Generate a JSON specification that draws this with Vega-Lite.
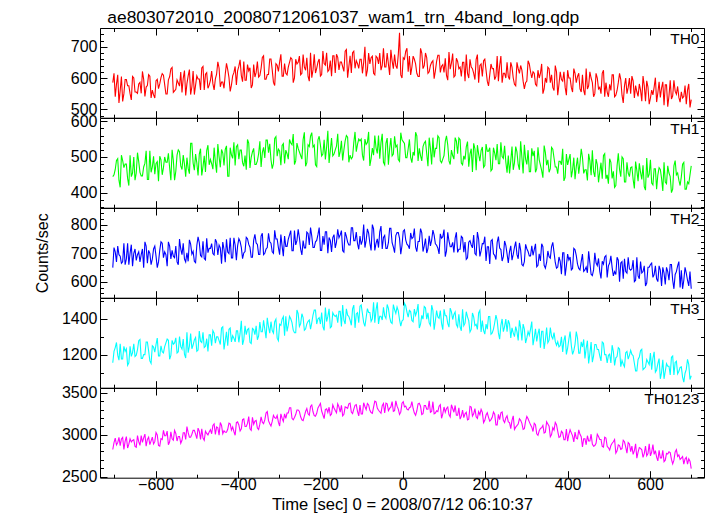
{
"$schema":"https://vega.github.io/schema/vega-lite/v6.json",
"padding":{"left":34,"top":9,"right":5,"bottom":0},
"title":{"text":"ae803072010_20080712061037_wam1_trn_4band_long.qdp","anchor":"start","fontSize":17.4,"fontWeight":"normal","color":"black","offset":1,"dx":73},
"config":{"font":"Liberation Sans","view":{"stroke":null},"axis":{"labelFontSize":16,"titleFontSize":16,"titleFontWeight":"normal","labelColor":"black","titleColor":"black","tickColor":"black","domainColor":"black","grid":false,"labelFlush":false,"labelOverlap":false,"labelBound":false,"tickWidth":1,"domainWidth":1,"format":"d"}},
"spacing":0,
"bounds":"flush",
"data":{"values":[
{"t":-704,"a":585,"b":445,"c":650,"d":1156,"e":2824},{"t":-698,"a":540,"b":465,"c":705,"d":1240,"e":2959},{"t":-692,"a":610,"b":495,"c":725,"d":1198,"e":2905},{"t":-686,"a":560,"b":415,"c":690,"d":1261,"e":2869},{"t":-680,"a":525,"b":490,"c":670,"d":1177,"e":2968},{"t":-674,"a":595,"b":480,"c":660,"d":1219,"e":2923},{"t":-668,"a":575,"b":440,"c":735,"d":1142,"e":2842},{"t":-662,"a":550,"b":505,"c":700,"d":1247,"e":2950},{"t":-656,"a":605,"b":455,"c":655,"d":1212,"e":2932},{"t":-650,"a":555,"b":435,"c":715,"d":1191,"e":2860},
{"t":-644,"a":551,"b":512,"c":695,"d":1229,"e":2989},{"t":-638,"a":586,"b":457,"c":670,"d":1285,"e":2872},{"t":-632,"a":621,"b":447,"c":715,"d":1180,"e":2908},{"t":-626,"a":541,"b":482,"c":740,"d":1201,"e":3007},{"t":-620,"a":576,"b":437,"c":665,"d":1271,"e":2944},{"t":-614,"a":606,"b":517,"c":700,"d":1166,"e":2881},{"t":-608,"a":561,"b":472,"c":680,"d":1250,"e":2971},{"t":-602,"a":536,"b":452,"c":725,"d":1215,"e":2917},{"t":-596,"a":596,"b":487,"c":650,"d":1292,"e":2998},{"t":-590,"a":581,"b":502,"c":710,"d":1194,"e":2863},
{"t":-584,"a":614,"b":450,"c":735,"d":1217,"e":2943},{"t":-578,"a":579,"b":500,"c":705,"d":1245,"e":2988},{"t":-572,"a":549,"b":485,"c":655,"d":1287,"e":3042},{"t":-566,"a":604,"b":470,"c":725,"d":1175,"e":2916},{"t":-560,"a":634,"b":520,"c":710,"d":1280,"e":2952},{"t":-554,"a":559,"b":435,"c":685,"d":1266,"e":3051},{"t":-548,"a":594,"b":505,"c":670,"d":1210,"e":2925},{"t":-542,"a":574,"b":515,"c":750,"d":1301,"e":2979},{"t":-536,"a":554,"b":465,"c":695,"d":1231,"e":2934},{"t":-530,"a":624,"b":480,"c":680,"d":1203,"e":3024},
{"t":-524,"a":582,"b":498,"c":702,"d":1324,"e":3096},{"t":-518,"a":627,"b":453,"c":747,"d":1247,"e":2970},{"t":-512,"a":572,"b":538,"c":697,"d":1233,"e":3006},{"t":-506,"a":547,"b":463,"c":672,"d":1282,"e":3051},{"t":-500,"a":607,"b":483,"c":727,"d":1219,"e":2952},{"t":-494,"a":597,"b":508,"c":737,"d":1331,"e":3042},{"t":-488,"a":632,"b":448,"c":687,"d":1268,"e":3069},{"t":-482,"a":562,"b":503,"c":682,"d":1240,"e":2934},{"t":-476,"a":617,"b":518,"c":752,"d":1289,"e":3015},{"t":-470,"a":577,"b":478,"c":717,"d":1310,"e":3033},
{"t":-464,"a":622,"b":481,"c":734,"d":1250,"e":3011},{"t":-458,"a":562,"b":526,"c":694,"d":1320,"e":3128},{"t":-452,"a":612,"b":456,"c":739,"d":1299,"e":3092},{"t":-446,"a":632,"b":501,"c":729,"d":1278,"e":2993},{"t":-440,"a":587,"b":521,"c":664,"d":1348,"e":3110},{"t":-434,"a":567,"b":476,"c":714,"d":1229,"e":3047},{"t":-428,"a":647,"b":531,"c":749,"d":1327,"e":3029},{"t":-422,"a":602,"b":446,"c":699,"d":1341,"e":3137},{"t":-416,"a":577,"b":506,"c":684,"d":1271,"e":3056},{"t":-410,"a":617,"b":541,"c":754,"d":1292,"e":3038},
{"t":-404,"a":578,"b":529,"c":676,"d":1332,"e":3143},{"t":-398,"a":638,"b":494,"c":751,"d":1269,"e":3116},{"t":-392,"a":608,"b":519,"c":721,"d":1388,"e":3071},{"t":-386,"a":653,"b":474,"c":701,"d":1283,"e":3188},{"t":-380,"a":593,"b":464,"c":756,"d":1311,"e":3098},{"t":-374,"a":623,"b":539,"c":731,"d":1346,"e":3215},{"t":-368,"a":568,"b":499,"c":686,"d":1262,"e":3053},{"t":-362,"a":643,"b":524,"c":746,"d":1339,"e":3125},{"t":-356,"a":618,"b":479,"c":736,"d":1360,"e":3170},{"t":-350,"a":603,"b":509,"c":696,"d":1304,"e":3062},
{"t":-344,"a":631,"b":472,"c":760,"d":1327,"e":3212},{"t":-338,"a":671,"b":527,"c":695,"d":1390,"e":3131},{"t":-332,"a":596,"b":547,"c":715,"d":1292,"e":3257},{"t":-326,"a":611,"b":512,"c":770,"d":1355,"e":3167},{"t":-320,"a":661,"b":492,"c":735,"d":1383,"e":3104},{"t":-314,"a":586,"b":482,"c":700,"d":1320,"e":3230},{"t":-308,"a":646,"b":557,"c":750,"d":1397,"e":3194},{"t":-302,"a":621,"b":522,"c":720,"d":1278,"e":3149},{"t":-296,"a":676,"b":477,"c":765,"d":1362,"e":3248},{"t":-290,"a":606,"b":537,"c":690,"d":1411,"e":3158},
{"t":-284,"a":615,"b":519,"c":724,"d":1413,"e":3195},{"t":-278,"a":635,"b":494,"c":749,"d":1364,"e":3258},{"t":-272,"a":665,"b":539,"c":779,"d":1399,"e":3321},{"t":-266,"a":585,"b":564,"c":709,"d":1336,"e":3177},{"t":-260,"a":660,"b":489,"c":729,"d":1322,"e":3240},{"t":-254,"a":650,"b":524,"c":784,"d":1427,"e":3294},{"t":-248,"a":610,"b":504,"c":714,"d":1371,"e":3213},{"t":-242,"a":675,"b":549,"c":744,"d":1406,"e":3168},{"t":-236,"a":625,"b":474,"c":719,"d":1343,"e":3276},{"t":-230,"a":605,"b":534,"c":769,"d":1385,"e":3249},
{"t":-224,"a":681,"b":558,"c":790,"d":1342,"e":3336},{"t":-218,"a":626,"b":528,"c":720,"d":1419,"e":3273},{"t":-212,"a":616,"b":478,"c":740,"d":1447,"e":3219},{"t":-206,"a":651,"b":548,"c":765,"d":1398,"e":3318},{"t":-200,"a":606,"b":533,"c":710,"d":1370,"e":3372},{"t":-194,"a":686,"b":508,"c":760,"d":1356,"e":3237},{"t":-188,"a":641,"b":493,"c":775,"d":1461,"e":3300},{"t":-182,"a":621,"b":573,"c":700,"d":1412,"e":3264},{"t":-176,"a":656,"b":518,"c":745,"d":1349,"e":3228},{"t":-170,"a":671,"b":503,"c":755,"d":1433,"e":3354},
{"t":-164,"a":616,"b":520,"c":719,"d":1412,"e":3287},{"t":-158,"a":666,"b":565,"c":784,"d":1377,"e":3368},{"t":-152,"a":651,"b":515,"c":764,"d":1440,"e":3269},{"t":-146,"a":636,"b":490,"c":709,"d":1475,"e":3224},{"t":-140,"a":686,"b":545,"c":774,"d":1370,"e":3332},{"t":-134,"a":601,"b":555,"c":739,"d":1419,"e":3314},{"t":-128,"a":671,"b":505,"c":729,"d":1391,"e":3377},{"t":-122,"a":681,"b":500,"c":789,"d":1454,"e":3251},{"t":-116,"a":631,"b":570,"c":744,"d":1349,"e":3350},{"t":-110,"a":646,"b":535,"c":734,"d":1433,"e":3278},
{"t":-104,"a":660,"b":545,"c":760,"d":1469,"e":3354},{"t":-98,"a":615,"b":505,"c":745,"d":1427,"e":3246},{"t":-92,"a":700,"b":550,"c":720,"d":1357,"e":3336},{"t":-86,"a":625,"b":540,"c":785,"d":1455,"e":3372},{"t":-80,"a":645,"b":475,"c":735,"d":1434,"e":3291},{"t":-74,"a":670,"b":525,"c":800,"d":1399,"e":3255},{"t":-68,"a":610,"b":560,"c":710,"d":1378,"e":3399},{"t":-62,"a":665,"b":510,"c":750,"d":1490,"e":3318},{"t":-56,"a":680,"b":495,"c":775,"d":1413,"e":3273},{"t":-50,"a":640,"b":565,"c":715,"d":1392,"e":3345},
{"t":-44,"a":635,"b":478,"c":762,"d":1415,"e":3259},{"t":-38,"a":680,"b":553,"c":717,"d":1478,"e":3367},{"t":-32,"a":610,"b":523,"c":787,"d":1408,"e":3313},{"t":-26,"a":655,"b":503,"c":737,"d":1373,"e":3394},{"t":-20,"a":675,"b":558,"c":702,"d":1450,"e":3286},{"t":-14,"a":630,"b":533,"c":772,"d":1464,"e":3340},{"t":-8,"a":745,"b":488,"c":752,"d":1394,"e":3241},{"t":-2,"a":600,"b":548,"c":727,"d":1387,"e":3376},{"t":4,"a":660,"b":538,"c":782,"d":1485,"e":3331},{"t":10,"a":695,"b":498,"c":732,"d":1436,"e":3304},
{"t":16,"a":670,"b":549,"c":716,"d":1446,"e":3321},{"t":22,"a":635,"b":484,"c":751,"d":1390,"e":3393},{"t":28,"a":660,"b":504,"c":786,"d":1453,"e":3258},{"t":34,"a":615,"b":559,"c":706,"d":1439,"e":3285},{"t":40,"a":605,"b":524,"c":741,"d":1348,"e":3375},{"t":46,"a":680,"b":489,"c":771,"d":1418,"e":3240},{"t":52,"a":640,"b":539,"c":726,"d":1467,"e":3348},{"t":58,"a":665,"b":509,"c":701,"d":1397,"e":3303},{"t":64,"a":620,"b":554,"c":761,"d":1376,"e":3402},{"t":70,"a":650,"b":479,"c":746,"d":1474,"e":3276},
{"t":76,"a":598,"b":499,"c":763,"d":1339,"e":3249},{"t":82,"a":653,"b":524,"c":728,"d":1444,"e":3285},{"t":88,"a":673,"b":554,"c":698,"d":1402,"e":3339},{"t":94,"a":638,"b":484,"c":753,"d":1374,"e":3195},{"t":100,"a":618,"b":504,"c":783,"d":1451,"e":3330},{"t":106,"a":608,"b":559,"c":708,"d":1416,"e":3312},{"t":112,"a":683,"b":489,"c":743,"d":1353,"e":3240},{"t":118,"a":648,"b":519,"c":723,"d":1437,"e":3357},{"t":124,"a":603,"b":494,"c":703,"d":1423,"e":3267},{"t":130,"a":663,"b":544,"c":773,"d":1367,"e":3231},
{"t":136,"a":630,"b":553,"c":714,"d":1424,"e":3320},{"t":142,"a":605,"b":483,"c":759,"d":1333,"e":3221},{"t":148,"a":650,"b":503,"c":704,"d":1361,"e":3203},{"t":154,"a":675,"b":528,"c":679,"d":1438,"e":3266},{"t":160,"a":600,"b":473,"c":739,"d":1389,"e":3185},{"t":166,"a":635,"b":523,"c":729,"d":1340,"e":3329},{"t":172,"a":615,"b":538,"c":764,"d":1410,"e":3248},{"t":178,"a":660,"b":463,"c":694,"d":1368,"e":3212},{"t":184,"a":585,"b":508,"c":749,"d":1431,"e":3275},{"t":190,"a":645,"b":518,"c":709,"d":1326,"e":3302},
{"t":196,"a":655,"b":471,"c":733,"d":1335,"e":3144},{"t":202,"a":625,"b":536,"c":673,"d":1370,"e":3234},{"t":208,"a":575,"b":516,"c":723,"d":1412,"e":3207},{"t":214,"a":645,"b":461,"c":743,"d":1314,"e":3180},{"t":220,"a":630,"b":526,"c":698,"d":1342,"e":3270},{"t":226,"a":605,"b":491,"c":678,"d":1419,"e":3117},{"t":232,"a":590,"b":481,"c":758,"d":1321,"e":3243},{"t":238,"a":670,"b":541,"c":713,"d":1363,"e":3261},{"t":244,"a":615,"b":496,"c":688,"d":1328,"e":3171},{"t":250,"a":600,"b":486,"c":728,"d":1398,"e":3198},
{"t":256,"a":605,"b":504,"c":666,"d":1391,"e":3153},{"t":262,"a":650,"b":489,"c":726,"d":1293,"e":3072},{"t":268,"a":600,"b":464,"c":696,"d":1321,"e":3225},{"t":274,"a":575,"b":529,"c":741,"d":1356,"e":3090},{"t":280,"a":630,"b":479,"c":681,"d":1279,"e":3126},{"t":286,"a":640,"b":544,"c":711,"d":1349,"e":3171},{"t":292,"a":590,"b":454,"c":656,"d":1370,"e":3063},{"t":298,"a":585,"b":494,"c":731,"d":1265,"e":3162},{"t":304,"a":655,"b":519,"c":706,"d":1328,"e":3189},{"t":310,"a":620,"b":459,"c":691,"d":1342,"e":3117},
{"t":316,"a":620,"b":502,"c":693,"d":1253,"e":3038},{"t":322,"a":580,"b":457,"c":733,"d":1344,"e":3119},{"t":328,"a":625,"b":527,"c":658,"d":1316,"e":2993},{"t":334,"a":615,"b":477,"c":673,"d":1239,"e":3074},{"t":340,"a":550,"b":442,"c":723,"d":1330,"e":3110},{"t":346,"a":600,"b":512,"c":648,"d":1281,"e":3029},{"t":352,"a":635,"b":492,"c":708,"d":1267,"e":3128},{"t":358,"a":585,"b":467,"c":683,"d":1351,"e":2975},{"t":364,"a":570,"b":522,"c":738,"d":1288,"e":3083},{"t":370,"a":640,"b":472,"c":668,"d":1274,"e":3146},
{"t":376,"a":545,"b":453,"c":652,"d":1272,"e":3040},{"t":382,"a":620,"b":488,"c":672,"d":1251,"e":2977},{"t":388,"a":590,"b":523,"c":702,"d":1216,"e":3022},{"t":394,"a":570,"b":443,"c":622,"d":1307,"e":2941},{"t":400,"a":625,"b":478,"c":697,"d":1237,"e":2923},{"t":406,"a":600,"b":508,"c":687,"d":1328,"e":3058},{"t":412,"a":555,"b":463,"c":647,"d":1202,"e":2986},{"t":418,"a":615,"b":438,"c":712,"d":1258,"e":3031},{"t":424,"a":605,"b":498,"c":662,"d":1293,"e":2950},{"t":430,"a":565,"b":483,"c":642,"d":1209,"e":3004},
{"t":436,"a":610,"b":499,"c":697,"d":1243,"e":2853},{"t":442,"a":545,"b":464,"c":642,"d":1180,"e":2952},{"t":448,"a":565,"b":434,"c":632,"d":1278,"e":2988},{"t":454,"a":620,"b":489,"c":667,"d":1208,"e":2925},{"t":460,"a":585,"b":519,"c":622,"d":1159,"e":2889},{"t":466,"a":550,"b":444,"c":702,"d":1257,"e":2871},{"t":472,"a":600,"b":479,"c":657,"d":1229,"e":3006},{"t":478,"a":570,"b":459,"c":637,"d":1194,"e":2943},{"t":484,"a":615,"b":439,"c":672,"d":1271,"e":2862},{"t":490,"a":540,"b":509,"c":687,"d":1201,"e":2970},
{"t":496,"a":555,"b":450,"c":616,"d":1155,"e":2862},{"t":502,"a":580,"b":495,"c":666,"d":1204,"e":2817},{"t":508,"a":610,"b":440,"c":651,"d":1253,"e":2898},{"t":514,"a":540,"b":415,"c":636,"d":1141,"e":2943},{"t":520,"a":560,"b":475,"c":686,"d":1190,"e":2808},{"t":526,"a":615,"b":465,"c":601,"d":1232,"e":2871},{"t":532,"a":545,"b":500,"c":671,"d":1169,"e":2835},{"t":538,"a":575,"b":430,"c":681,"d":1134,"e":2916},{"t":544,"a":550,"b":485,"c":631,"d":1218,"e":2781},{"t":550,"a":600,"b":445,"c":646,"d":1197,"e":2889},
{"t":556,"a":606,"b":472,"c":646,"d":1202,"e":2865},{"t":562,"a":536,"b":412,"c":601,"d":1153,"e":2811},{"t":568,"a":556,"b":462,"c":686,"d":1111,"e":2721},{"t":574,"a":581,"b":482,"c":611,"d":1188,"e":2847},{"t":580,"a":526,"b":437,"c":631,"d":1230,"e":2820},{"t":586,"a":576,"b":417,"c":656,"d":1125,"e":2775},{"t":592,"a":591,"b":497,"c":596,"d":1174,"e":2748},{"t":598,"a":516,"b":452,"c":651,"d":1146,"e":2892},{"t":604,"a":561,"b":427,"c":666,"d":1118,"e":2793},{"t":610,"a":571,"b":467,"c":626,"d":1216,"e":2766},
{"t":616,"a":523,"b":410,"c":611,"d":1116,"e":2733},{"t":622,"a":588,"b":470,"c":656,"d":1179,"e":2814},{"t":628,"a":568,"b":440,"c":586,"d":1102,"e":2724},{"t":634,"a":513,"b":485,"c":631,"d":1067,"e":2679},{"t":640,"a":578,"b":425,"c":651,"d":1151,"e":2778},{"t":646,"a":543,"b":455,"c":606,"d":1137,"e":2796},{"t":652,"a":533,"b":400,"c":661,"d":1186,"e":2706},{"t":658,"a":593,"b":475,"c":576,"d":1088,"e":2697},{"t":664,"a":548,"b":450,"c":636,"d":1165,"e":2823},{"t":670,"a":538,"b":435,"c":671,"d":1109,"e":2760},
{"t":676,"a":556,"b":445,"c":641,"d":1133,"e":2721},{"t":682,"a":541,"b":485,"c":606,"d":1049,"e":2649},{"t":688,"a":516,"b":410,"c":631,"d":1119,"e":2730},{"t":694,"a":581,"b":425,"c":586,"d":1147,"e":2712},{"t":700,"a":531,"b":475,"c":576,"d":1084,"e":2595},
{"t":-701,"a":615,"b":450,"c":720,"d":1219,"e":2905},{"t":-695,"a":580,"b":490,"c":670,"d":1268,"e":2878},{"t":-689,"a":520,"b":435,"c":695,"d":1170,"e":2968},{"t":-683,"a":605,"b":505,"c":665,"d":1177,"e":2950},{"t":-677,"a":550,"b":470,"c":735,"d":1247,"e":2824},{"t":-671,"a":595,"b":480,"c":680,"d":1233,"e":2977},{"t":-665,"a":575,"b":420,"c":660,"d":1156,"e":2887},{"t":-659,"a":530,"b":445,"c":730,"d":1191,"e":2914},{"t":-653,"a":600,"b":500,"c":700,"d":1261,"e":2941},{"t":-647,"a":555,"b":455,"c":675,"d":1198,"e":2851},
{"t":-641,"a":581,"b":487,"c":705,"d":1278,"e":2917},{"t":-635,"a":551,"b":447,"c":695,"d":1180,"e":2989},{"t":-629,"a":596,"b":472,"c":650,"d":1201,"e":2962},{"t":-623,"a":571,"b":517,"c":725,"d":1271,"e":2863},{"t":-617,"a":611,"b":437,"c":710,"d":1222,"e":2971},{"t":-611,"a":536,"b":457,"c":660,"d":1152,"e":2926},{"t":-605,"a":546,"b":502,"c":715,"d":1243,"e":2890},{"t":-599,"a":591,"b":482,"c":690,"d":1257,"e":3025},{"t":-593,"a":566,"b":432,"c":670,"d":1194,"e":2872},{"t":-587,"a":601,"b":492,"c":740,"d":1250,"e":2953},
{"t":-581,"a":609,"b":470,"c":685,"d":1210,"e":3051},{"t":-575,"a":549,"b":485,"c":695,"d":1266,"e":2988},{"t":-569,"a":594,"b":510,"c":740,"d":1280,"e":2880},{"t":-563,"a":629,"b":435,"c":680,"d":1196,"e":3033},{"t":-557,"a":554,"b":490,"c":690,"d":1259,"e":2934},{"t":-551,"a":564,"b":460,"c":725,"d":1294,"e":3015},{"t":-545,"a":584,"b":520,"c":660,"d":1217,"e":2979},{"t":-539,"a":619,"b":475,"c":715,"d":1245,"e":2898},{"t":-533,"a":599,"b":505,"c":735,"d":1287,"e":3024},{"t":-527,"a":544,"b":445,"c":670,"d":1182,"e":2943},
{"t":-521,"a":607,"b":468,"c":672,"d":1212,"e":3024},{"t":-515,"a":547,"b":538,"c":732,"d":1317,"e":2970},{"t":-509,"a":622,"b":483,"c":707,"d":1254,"e":3051},{"t":-503,"a":577,"b":508,"c":667,"d":1296,"e":3006},{"t":-497,"a":597,"b":448,"c":757,"d":1226,"e":3078},{"t":-491,"a":562,"b":523,"c":692,"d":1275,"e":2943},{"t":-485,"a":637,"b":473,"c":742,"d":1324,"e":2961},{"t":-479,"a":612,"b":458,"c":677,"d":1247,"e":3042},{"t":-473,"a":567,"b":533,"c":702,"d":1219,"e":2997},{"t":-467,"a":592,"b":493,"c":717,"d":1310,"e":3060},
{"t":-461,"a":582,"b":466,"c":699,"d":1334,"e":3110},{"t":-455,"a":597,"b":486,"c":749,"d":1264,"e":3002},{"t":-449,"a":652,"b":536,"c":694,"d":1299,"e":3083},{"t":-443,"a":572,"b":471,"c":719,"d":1257,"e":3146},{"t":-437,"a":587,"b":511,"c":739,"d":1355,"e":3011},{"t":-431,"a":612,"b":521,"c":669,"d":1278,"e":3029},{"t":-425,"a":627,"b":446,"c":704,"d":1250,"e":3065},{"t":-419,"a":557,"b":526,"c":754,"d":1348,"e":3128},{"t":-413,"a":607,"b":496,"c":684,"d":1306,"e":3092},{"t":-407,"a":637,"b":476,"c":729,"d":1271,"e":2993},
{"t":-401,"a":623,"b":534,"c":726,"d":1332,"e":3152},{"t":-395,"a":658,"b":519,"c":741,"d":1318,"e":3044},{"t":-389,"a":588,"b":484,"c":681,"d":1255,"e":3179},{"t":-383,"a":593,"b":504,"c":706,"d":1360,"e":3098},{"t":-377,"a":643,"b":549,"c":751,"d":1339,"e":3134},{"t":-371,"a":633,"b":469,"c":721,"d":1269,"e":3071},{"t":-365,"a":578,"b":514,"c":686,"d":1346,"e":3206},{"t":-359,"a":603,"b":479,"c":766,"d":1311,"e":3161},{"t":-353,"a":653,"b":489,"c":731,"d":1283,"e":3080},{"t":-347,"a":608,"b":544,"c":696,"d":1381,"e":3125},
{"t":-341,"a":666,"b":512,"c":770,"d":1327,"e":3149},{"t":-335,"a":596,"b":497,"c":700,"d":1341,"e":3176},{"t":-329,"a":611,"b":547,"c":720,"d":1404,"e":3275},{"t":-323,"a":661,"b":537,"c":740,"d":1320,"e":3131},{"t":-317,"a":626,"b":467,"c":705,"d":1334,"e":3158},{"t":-311,"a":576,"b":552,"c":780,"d":1383,"e":3203},{"t":-305,"a":641,"b":502,"c":750,"d":1292,"e":3230},{"t":-299,"a":651,"b":517,"c":695,"d":1369,"e":3104},{"t":-293,"a":606,"b":532,"c":725,"d":1397,"e":3194},{"t":-287,"a":646,"b":482,"c":760,"d":1306,"e":3248},
{"t":-281,"a":610,"b":509,"c":724,"d":1329,"e":3258},{"t":-275,"a":650,"b":549,"c":764,"d":1413,"e":3321},{"t":-269,"a":660,"b":534,"c":709,"d":1378,"e":3195},{"t":-263,"a":600,"b":479,"c":779,"d":1322,"e":3204},{"t":-257,"a":645,"b":539,"c":744,"d":1448,"e":3294},{"t":-251,"a":670,"b":514,"c":754,"d":1357,"e":3276},{"t":-245,"a":615,"b":494,"c":694,"d":1427,"e":3177},{"t":-239,"a":635,"b":569,"c":719,"d":1336,"e":3222},{"t":-233,"a":665,"b":484,"c":774,"d":1371,"e":3312},{"t":-227,"a":590,"b":529,"c":729,"d":1392,"e":3231},
{"t":-221,"a":601,"b":568,"c":760,"d":1377,"e":3354},{"t":-215,"a":676,"b":533,"c":720,"d":1447,"e":3228},{"t":-209,"a":631,"b":473,"c":745,"d":1370,"e":3255},{"t":-203,"a":661,"b":558,"c":790,"d":1405,"e":3345},{"t":-197,"a":611,"b":503,"c":710,"d":1433,"e":3282},{"t":-191,"a":646,"b":548,"c":730,"d":1335,"e":3192},{"t":-185,"a":681,"b":528,"c":775,"d":1384,"e":3309},{"t":-179,"a":626,"b":483,"c":755,"d":1454,"e":3327},{"t":-173,"a":606,"b":553,"c":705,"d":1356,"e":3246},{"t":-167,"a":671,"b":508,"c":765,"d":1419,"e":3318},
{"t":-161,"a":676,"b":530,"c":739,"d":1419,"e":3260},{"t":-155,"a":626,"b":500,"c":754,"d":1440,"e":3332},{"t":-149,"a":651,"b":545,"c":779,"d":1356,"e":3350},{"t":-143,"a":621,"b":520,"c":704,"d":1391,"e":3242},{"t":-137,"a":691,"b":560,"c":759,"d":1454,"e":3323},{"t":-131,"a":636,"b":485,"c":729,"d":1412,"e":3368},{"t":-125,"a":616,"b":495,"c":789,"d":1363,"e":3269},{"t":-119,"a":686,"b":540,"c":744,"d":1475,"e":3305},{"t":-113,"a":656,"b":515,"c":774,"d":1426,"e":3359},{"t":-107,"a":631,"b":550,"c":714,"d":1377,"e":3224},
{"t":-101,"a":660,"b":550,"c":730,"d":1476,"e":3246},{"t":-95,"a":650,"b":490,"c":800,"d":1378,"e":3381},{"t":-89,"a":605,"b":535,"c":745,"d":1406,"e":3300},{"t":-83,"a":680,"b":570,"c":770,"d":1434,"e":3354},{"t":-77,"a":665,"b":495,"c":710,"d":1385,"e":3264},{"t":-71,"a":615,"b":505,"c":785,"d":1490,"e":3327},{"t":-65,"a":670,"b":525,"c":735,"d":1448,"e":3390},{"t":-59,"a":645,"b":560,"c":720,"d":1371,"e":3291},{"t":-53,"a":625,"b":540,"c":795,"d":1413,"e":3255},{"t":-47,"a":695,"b":485,"c":755,"d":1462,"e":3372},
{"t":-41,"a":635,"b":538,"c":717,"d":1401,"e":3376},{"t":-35,"a":645,"b":478,"c":737,"d":1457,"e":3286},{"t":-29,"a":690,"b":553,"c":787,"d":1380,"e":3331},{"t":-23,"a":630,"b":508,"c":722,"d":1478,"e":3277},{"t":-17,"a":640,"b":528,"c":762,"d":1429,"e":3403},{"t":-11,"a":675,"b":493,"c":772,"d":1443,"e":3304},{"t":-5,"a":610,"b":568,"c":697,"d":1359,"e":3268},{"t":1,"a":665,"b":543,"c":777,"d":1394,"e":3394},{"t":7,"a":685,"b":498,"c":747,"d":1471,"e":3340},{"t":13,"a":620,"b":523,"c":727,"d":1408,"e":3295},
{"t":19,"a":610,"b":499,"c":771,"d":1439,"e":3330},{"t":25,"a":670,"b":514,"c":756,"d":1383,"e":3312},{"t":31,"a":645,"b":569,"c":721,"d":1418,"e":3231},{"t":37,"a":605,"b":489,"c":741,"d":1481,"e":3366},{"t":43,"a":695,"b":504,"c":786,"d":1369,"e":3339},{"t":49,"a":630,"b":529,"c":706,"d":1397,"e":3249},{"t":55,"a":680,"b":544,"c":751,"d":1460,"e":3348},{"t":61,"a":615,"b":474,"c":716,"d":1432,"e":3303},{"t":67,"a":640,"b":524,"c":726,"d":1362,"e":3267},{"t":73,"a":655,"b":554,"c":781,"d":1446,"e":3393},
{"t":79,"a":623,"b":524,"c":733,"d":1388,"e":3258},{"t":85,"a":673,"b":559,"c":718,"d":1409,"e":3276},{"t":91,"a":618,"b":489,"c":768,"d":1444,"e":3357},{"t":97,"a":643,"b":494,"c":758,"d":1339,"e":3249},{"t":103,"a":663,"b":544,"c":688,"d":1416,"e":3267},{"t":109,"a":593,"b":534,"c":773,"d":1374,"e":3330},{"t":115,"a":628,"b":479,"c":723,"d":1458,"e":3213},{"t":121,"a":678,"b":504,"c":738,"d":1395,"e":3312},{"t":127,"a":608,"b":554,"c":753,"d":1437,"e":3348},{"t":133,"a":653,"b":509,"c":703,"d":1353,"e":3231},
{"t":139,"a":635,"b":548,"c":714,"d":1354,"e":3185},{"t":145,"a":650,"b":478,"c":754,"d":1452,"e":3293},{"t":151,"a":590,"b":493,"c":739,"d":1375,"e":3248},{"t":157,"a":615,"b":543,"c":684,"d":1410,"e":3176},{"t":163,"a":660,"b":508,"c":744,"d":1326,"e":3338},{"t":169,"a":630,"b":458,"c":719,"d":1431,"e":3221},{"t":175,"a":595,"b":523,"c":699,"d":1361,"e":3311},{"t":181,"a":675,"b":533,"c":774,"d":1340,"e":3194},{"t":187,"a":640,"b":488,"c":689,"d":1445,"e":3239},{"t":193,"a":605,"b":528,"c":734,"d":1389,"e":3266},
{"t":199,"a":660,"b":476,"c":758,"d":1314,"e":3171},{"t":205,"a":590,"b":516,"c":723,"d":1342,"e":3261},{"t":211,"a":610,"b":526,"c":663,"d":1412,"e":3162},{"t":217,"a":630,"b":466,"c":748,"d":1321,"e":3207},{"t":223,"a":595,"b":511,"c":693,"d":1377,"e":3243},{"t":229,"a":670,"b":536,"c":738,"d":1391,"e":3117},{"t":235,"a":640,"b":481,"c":718,"d":1286,"e":3180},{"t":241,"a":585,"b":501,"c":673,"d":1398,"e":3270},{"t":247,"a":615,"b":531,"c":743,"d":1356,"e":3144},{"t":253,"a":650,"b":456,"c":698,"d":1328,"e":3225},
{"t":259,"a":595,"b":454,"c":706,"d":1370,"e":3144},{"t":265,"a":635,"b":529,"c":676,"d":1349,"e":3171},{"t":271,"a":580,"b":484,"c":721,"d":1300,"e":3063},{"t":277,"a":650,"b":514,"c":696,"d":1328,"e":3108},{"t":283,"a":615,"b":464,"c":736,"d":1391,"e":3189},{"t":289,"a":625,"b":499,"c":661,"d":1279,"e":3135},{"t":295,"a":565,"b":534,"c":671,"d":1342,"e":3072},{"t":301,"a":590,"b":479,"c":716,"d":1293,"e":3216},{"t":307,"a":645,"b":459,"c":691,"d":1307,"e":3153},{"t":313,"a":600,"b":524,"c":726,"d":1384,"e":3090},
{"t":319,"a":615,"b":517,"c":713,"d":1295,"e":3137},{"t":325,"a":575,"b":467,"c":653,"d":1274,"e":3011},{"t":331,"a":600,"b":492,"c":698,"d":1344,"e":3047},{"t":337,"a":645,"b":462,"c":733,"d":1330,"e":3083},{"t":343,"a":565,"b":532,"c":658,"d":1232,"e":3020},{"t":349,"a":585,"b":477,"c":668,"d":1351,"e":3155},{"t":355,"a":630,"b":457,"c":688,"d":1281,"e":3101},{"t":361,"a":610,"b":527,"c":723,"d":1302,"e":3002},{"t":367,"a":560,"b":497,"c":703,"d":1323,"e":3056},{"t":373,"a":620,"b":472,"c":648,"d":1253,"e":3119},
{"t":379,"a":580,"b":488,"c":687,"d":1244,"e":2968},{"t":385,"a":595,"b":478,"c":627,"d":1300,"e":3040},{"t":391,"a":620,"b":433,"c":702,"d":1279,"e":2941},{"t":397,"a":545,"b":508,"c":657,"d":1202,"e":3067},{"t":403,"a":600,"b":493,"c":677,"d":1286,"e":3004},{"t":409,"a":570,"b":443,"c":642,"d":1251,"e":3022},{"t":415,"a":630,"b":498,"c":717,"d":1223,"e":2914},{"t":421,"a":585,"b":473,"c":692,"d":1328,"e":2959},{"t":427,"a":615,"b":453,"c":647,"d":1209,"e":3058},{"t":433,"a":555,"b":523,"c":672,"d":1272,"e":2977},
{"t":439,"a":560,"b":454,"c":637,"d":1285,"e":2952},{"t":445,"a":630,"b":464,"c":652,"d":1236,"e":2880},{"t":451,"a":575,"b":509,"c":707,"d":1152,"e":2925},{"t":457,"a":600,"b":449,"c":627,"d":1271,"e":3006},{"t":463,"a":540,"b":459,"c":642,"d":1194,"e":2862},{"t":469,"a":615,"b":494,"c":667,"d":1257,"e":2898},{"t":475,"a":565,"b":429,"c":682,"d":1229,"e":2979},{"t":481,"a":550,"b":484,"c":612,"d":1166,"e":2943},{"t":487,"a":625,"b":504,"c":662,"d":1264,"e":2853},{"t":493,"a":585,"b":439,"c":692,"d":1201,"e":2961},
{"t":499,"a":540,"b":425,"c":656,"d":1197,"e":2844},{"t":505,"a":560,"b":485,"c":691,"d":1155,"e":2871},{"t":511,"a":610,"b":460,"c":621,"d":1218,"e":2916},{"t":517,"a":545,"b":420,"c":626,"d":1183,"e":2781},{"t":523,"a":585,"b":510,"c":676,"d":1239,"e":2880},{"t":529,"a":595,"b":445,"c":666,"d":1134,"e":2826},{"t":535,"a":520,"b":495,"c":611,"d":1148,"e":2934},{"t":541,"a":600,"b":430,"c":636,"d":1211,"e":2853},{"t":547,"a":570,"b":455,"c":686,"d":1176,"e":2907},{"t":553,"a":550,"b":470,"c":641,"d":1225,"e":2799},
{"t":559,"a":591,"b":437,"c":676,"d":1195,"e":2766},{"t":565,"a":576,"b":487,"c":606,"d":1111,"e":2892},{"t":571,"a":541,"b":432,"c":621,"d":1174,"e":2793},{"t":577,"a":561,"b":457,"c":671,"d":1223,"e":2838},{"t":583,"a":606,"b":477,"c":636,"d":1118,"e":2730},{"t":589,"a":526,"b":407,"c":586,"d":1132,"e":2865},{"t":595,"a":571,"b":442,"c":651,"d":1160,"e":2775},{"t":601,"a":536,"b":492,"c":661,"d":1209,"e":2748},{"t":607,"a":546,"b":422,"c":616,"d":1181,"e":2883},{"t":613,"a":601,"b":467,"c":656,"d":1104,"e":2811},
{"t":619,"a":553,"b":450,"c":601,"d":1151,"e":2688},{"t":625,"a":538,"b":465,"c":641,"d":1067,"e":2724},{"t":631,"a":588,"b":405,"c":651,"d":1172,"e":2814},{"t":637,"a":578,"b":430,"c":591,"d":1109,"e":2697},{"t":643,"a":508,"b":475,"c":636,"d":1137,"e":2769},{"t":649,"a":593,"b":445,"c":661,"d":1088,"e":2787},{"t":655,"a":543,"b":410,"c":606,"d":1193,"e":2652},{"t":661,"a":558,"b":490,"c":626,"d":1158,"e":2796},{"t":667,"a":573,"b":455,"c":656,"d":1095,"e":2742},{"t":673,"a":523,"b":420,"c":581,"d":1130,"e":2706},
{"t":679,"a":536,"b":480,"c":576,"d":1077,"e":2739},{"t":685,"a":576,"b":410,"c":651,"d":1098,"e":2712},{"t":691,"a":561,"b":430,"c":606,"d":1175,"e":2649},{"t":697,"a":506,"b":450,"c":636,"d":1063,"e":2685}
]},
"vconcat":[
{"width":604,"height":89.7,
 "layer":[
  {"mark":{"type":"line","color":"#ff0000","strokeWidth":1.1},"encoding":{"x":{"field":"t","type":"quantitative","scale":{"domain":[-735,731],"nice":false,"zero":false},"axis":{"orient":"bottom","values":[-600,-400,-200,0,200,400,600],"tickSize":-7,"labels":false,"title":null}},"y":{"field":"a","type":"quantitative","scale":{"domain":[473,760],"nice":false,"zero":false},"axis":{"orient":"left","values":[500,600,700],"tickSize":-7,"labelPadding":10,"title":null}}}},
  {"mark":{"type":"line","strokeOpacity":0},"encoding":{"x":{"field":"t","type":"quantitative","axis":{"orient":"top","values":[-600,-400,-200,0,200,400,600],"tickSize":-7,"labels":false,"title":null}},"y":{"field":"a","type":"quantitative","axis":{"orient":"right","values":[500,600,700],"tickSize":-7,"labels":false,"title":null}}}},
  {"mark":{"type":"line","strokeOpacity":0},"encoding":{"x":{"field":"t","type":"quantitative","axis":{"orient":"bottom","values":[-700,-500,-300,-100,100,300,500,700],"tickSize":-3.5,"labels":false,"domain":false,"title":null}},"y":{"field":"a","type":"quantitative","axis":{"orient":"left","values":[480,520,540,560,580,620,640,660,680,720,740,760],"tickSize":-3.5,"labels":false,"domain":false,"title":null}}}},
  {"mark":{"type":"line","strokeOpacity":0},"encoding":{"x":{"field":"t","type":"quantitative","axis":{"orient":"top","values":[-700,-500,-300,-100,100,300,500,700],"tickSize":-3.5,"labels":false,"domain":false,"title":null}},"y":{"field":"a","type":"quantitative","axis":{"orient":"right","values":[480,520,540,560,580,620,640,660,680,720,740,760],"tickSize":-3.5,"labels":false,"domain":false,"title":null}}}},
  {"data":{"values":[{"label":"TH0"}]},"mark":{"type":"text","align":"right","baseline":"alphabetic","fontSize":15.5,"color":"black"},"encoding":{"x":{"datum":720,"type":"quantitative","axis":null},"y":{"datum":709,"type":"quantitative","axis":null},"text":{"field":"label"}}}
 ],
 "resolve":{"axis":{"x":"independent","y":"independent"}}
},
{"width":604,"height":89.7,
 "layer":[
  {"mark":{"type":"line","color":"#00ff00","strokeWidth":1.1},"encoding":{"x":{"field":"t","type":"quantitative","scale":{"domain":[-735,731],"nice":false,"zero":false},"axis":{"orient":"bottom","values":[-600,-400,-200,0,200,400,600],"tickSize":-7,"labels":false,"title":null}},"y":{"field":"b","type":"quantitative","scale":{"domain":[358,609],"nice":false,"zero":false},"axis":{"orient":"left","values":[400,500,600],"tickSize":-7,"labelPadding":10,"title":null}}}},
  {"mark":{"type":"line","strokeOpacity":0},"encoding":{"x":{"field":"t","type":"quantitative","axis":{"orient":"top","values":[-600,-400,-200,0,200,400,600],"tickSize":-7,"labels":false,"title":null}},"y":{"field":"b","type":"quantitative","axis":{"orient":"right","values":[400,500,600],"tickSize":-7,"labels":false,"title":null}}}},
  {"mark":{"type":"line","strokeOpacity":0},"encoding":{"x":{"field":"t","type":"quantitative","axis":{"orient":"bottom","values":[-700,-500,-300,-100,100,300,500,700],"tickSize":-3.5,"labels":false,"domain":false,"title":null}},"y":{"field":"b","type":"quantitative","axis":{"orient":"left","values":[360,380,420,440,460,480,520,540,560,580],"tickSize":-3.5,"labels":false,"domain":false,"title":null}}}},
  {"mark":{"type":"line","strokeOpacity":0},"encoding":{"x":{"field":"t","type":"quantitative","axis":{"orient":"top","values":[-700,-500,-300,-100,100,300,500,700],"tickSize":-3.5,"labels":false,"domain":false,"title":null}},"y":{"field":"b","type":"quantitative","axis":{"orient":"right","values":[360,380,420,440,460,480,520,540,560,580],"tickSize":-3.5,"labels":false,"domain":false,"title":null}}}},
  {"data":{"values":[{"label":"TH1"}]},"mark":{"type":"text","align":"right","baseline":"alphabetic","fontSize":15.5,"color":"black"},"encoding":{"x":{"datum":720,"type":"quantitative","axis":null},"y":{"datum":564,"type":"quantitative","axis":null},"text":{"field":"label"}}}
 ],
 "resolve":{"axis":{"x":"independent","y":"independent"}}
},
{"width":604,"height":89.7,
 "layer":[
  {"mark":{"type":"line","color":"#0000ff","strokeWidth":1.1},"encoding":{"x":{"field":"t","type":"quantitative","scale":{"domain":[-735,731],"nice":false,"zero":false},"axis":{"orient":"bottom","values":[-600,-400,-200,0,200,400,600],"tickSize":-7,"labels":false,"title":null}},"y":{"field":"c","type":"quantitative","scale":{"domain":[545,858],"nice":false,"zero":false},"axis":{"orient":"left","values":[600,700,800],"tickSize":-7,"labelPadding":10,"title":"Counts/sec","titlePadding":20}}}},
  {"mark":{"type":"line","strokeOpacity":0},"encoding":{"x":{"field":"t","type":"quantitative","axis":{"orient":"top","values":[-600,-400,-200,0,200,400,600],"tickSize":-7,"labels":false,"title":null}},"y":{"field":"c","type":"quantitative","axis":{"orient":"right","values":[600,700,800],"tickSize":-7,"labels":false,"title":null}}}},
  {"mark":{"type":"line","strokeOpacity":0},"encoding":{"x":{"field":"t","type":"quantitative","axis":{"orient":"bottom","values":[-700,-500,-300,-100,100,300,500,700],"tickSize":-3.5,"labels":false,"domain":false,"title":null}},"y":{"field":"c","type":"quantitative","axis":{"orient":"left","values":[560,580,620,640,660,680,720,740,760,780,820,840],"tickSize":-3.5,"labels":false,"domain":false,"title":null}}}},
  {"mark":{"type":"line","strokeOpacity":0},"encoding":{"x":{"field":"t","type":"quantitative","axis":{"orient":"top","values":[-700,-500,-300,-100,100,300,500,700],"tickSize":-3.5,"labels":false,"domain":false,"title":null}},"y":{"field":"c","type":"quantitative","axis":{"orient":"right","values":[560,580,620,640,660,680,720,740,760,780,820,840],"tickSize":-3.5,"labels":false,"domain":false,"title":null}}}},
  {"data":{"values":[{"label":"TH2"}]},"mark":{"type":"text","align":"right","baseline":"alphabetic","fontSize":15.5,"color":"black"},"encoding":{"x":{"datum":720,"type":"quantitative","axis":null},"y":{"datum":802,"type":"quantitative","axis":null},"text":{"field":"label"}}}
 ],
 "resolve":{"axis":{"x":"independent","y":"independent"}}
},
{"width":604,"height":89.7,
 "layer":[
  {"mark":{"type":"line","color":"#00ffff","strokeWidth":1.1},"encoding":{"x":{"field":"t","type":"quantitative","scale":{"domain":[-735,731],"nice":false,"zero":false},"axis":{"orient":"bottom","values":[-600,-400,-200,0,200,400,600],"tickSize":-7,"labels":false,"title":null}},"y":{"field":"d","type":"quantitative","scale":{"domain":[1018,1514],"nice":false,"zero":false},"axis":{"orient":"left","values":[1200,1400],"tickSize":-7,"labelPadding":10,"title":null}}}},
  {"mark":{"type":"line","strokeOpacity":0},"encoding":{"x":{"field":"t","type":"quantitative","axis":{"orient":"top","values":[-600,-400,-200,0,200,400,600],"tickSize":-7,"labels":false,"title":null}},"y":{"field":"d","type":"quantitative","axis":{"orient":"right","values":[1200,1400],"tickSize":-7,"labels":false,"title":null}}}},
  {"mark":{"type":"line","strokeOpacity":0},"encoding":{"x":{"field":"t","type":"quantitative","axis":{"orient":"bottom","values":[-700,-500,-300,-100,100,300,500,700],"tickSize":-3.5,"labels":false,"domain":false,"title":null}},"y":{"field":"d","type":"quantitative","axis":{"orient":"left","values":[1100,1300,1500],"tickSize":-3.5,"labels":false,"domain":false,"title":null}}}},
  {"mark":{"type":"line","strokeOpacity":0},"encoding":{"x":{"field":"t","type":"quantitative","axis":{"orient":"top","values":[-700,-500,-300,-100,100,300,500,700],"tickSize":-3.5,"labels":false,"domain":false,"title":null}},"y":{"field":"d","type":"quantitative","axis":{"orient":"right","values":[1100,1300,1500],"tickSize":-3.5,"labels":false,"domain":false,"title":null}}}},
  {"data":{"values":[{"label":"TH3"}]},"mark":{"type":"text","align":"right","baseline":"alphabetic","fontSize":15.5,"color":"black"},"encoding":{"x":{"datum":720,"type":"quantitative","axis":null},"y":{"datum":1426,"type":"quantitative","axis":null},"text":{"field":"label"}}}
 ],
 "resolve":{"axis":{"x":"independent","y":"independent"}}
},
{"width":604,"height":89.7,
 "layer":[
  {"mark":{"type":"line","color":"#ff00ff","strokeWidth":1.1},"encoding":{"x":{"field":"t","type":"quantitative","scale":{"domain":[-735,731],"nice":false,"zero":false},"axis":{"orient":"bottom","values":[-600,-400,-200,0,200,400,600],"tickSize":-7,"labels":true,"labelPadding":5.5,"title":"Time [sec] 0 = 2008/07/12 06:10:37","titleFontSize":16.6,"titlePadding":4}},"y":{"field":"e","type":"quantitative","scale":{"domain":[2488,3556],"nice":false,"zero":false},"axis":{"orient":"left","values":[2500,3000,3500],"tickSize":-7,"labelPadding":10,"title":null}}}},
  {"mark":{"type":"line","strokeOpacity":0},"encoding":{"x":{"field":"t","type":"quantitative","axis":{"orient":"top","values":[-600,-400,-200,0,200,400,600],"tickSize":-7,"labels":false,"title":null}},"y":{"field":"e","type":"quantitative","axis":{"orient":"right","values":[2500,3000,3500],"tickSize":-7,"labels":false,"title":null}}}},
  {"mark":{"type":"line","strokeOpacity":0},"encoding":{"x":{"field":"t","type":"quantitative","axis":{"orient":"bottom","values":[-700,-500,-300,-100,100,300,500,700],"tickSize":-3.5,"labels":false,"domain":false,"title":null}},"y":{"field":"e","type":"quantitative","axis":{"orient":"left","values":[2600,2700,2800,2900,3100,3200,3300,3400],"tickSize":-3.5,"labels":false,"domain":false,"title":null}}}},
  {"mark":{"type":"line","strokeOpacity":0},"encoding":{"x":{"field":"t","type":"quantitative","axis":{"orient":"top","values":[-700,-500,-300,-100,100,300,500,700],"tickSize":-3.5,"labels":false,"domain":false,"title":null}},"y":{"field":"e","type":"quantitative","axis":{"orient":"right","values":[2600,2700,2800,2900,3100,3200,3300,3400],"tickSize":-3.5,"labels":false,"domain":false,"title":null}}}},
  {"data":{"values":[{"label":"TH0123"}]},"mark":{"type":"text","align":"right","baseline":"alphabetic","fontSize":15.5,"color":"black"},"encoding":{"x":{"datum":720,"type":"quantitative","axis":null},"y":{"datum":3366,"type":"quantitative","axis":null},"text":{"field":"label"}}}
 ],
 "resolve":{"axis":{"x":"independent","y":"independent"}}
}
]
}
